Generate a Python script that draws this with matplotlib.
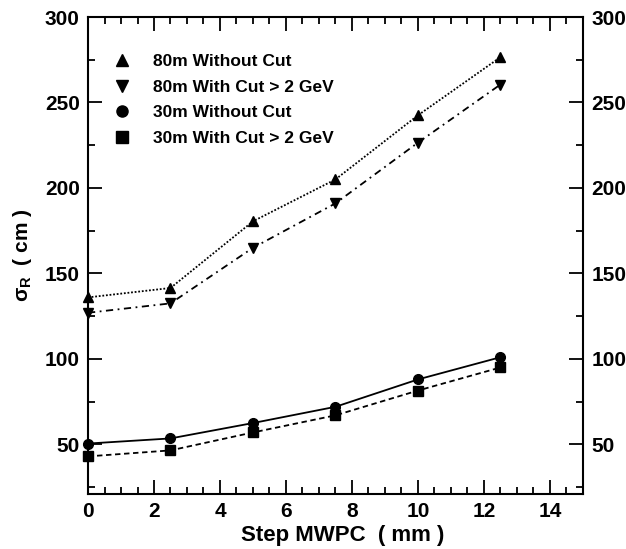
import matplotlib
matplotlib.use("Agg")
import matplotlib.pyplot as plt
from matplotlib.lines import Line2D
from matplotlib.ticker import MultipleLocator

plt.rcParams['font.family'] = ['Liberation Sans', 'DejaVu Sans']
plt.rcParams['font.weight'] = 'bold'
plt.rcParams['mathtext.fontset'] = 'custom'
plt.rcParams['mathtext.rm'] = 'Liberation Sans'
plt.rcParams['mathtext.it'] = 'Liberation Sans'

step = [0, 2.5, 5, 7.5, 10, 12.5]
sigma_80_nocut = [136, 141.5, 180.5, 205, 242.5, 276.5]
sigma_80_cut = [127, 132.5, 165, 191, 226.5, 260.5]
sigma_30_nocut = [50.5, 53.5, 62.5, 72, 88, 101]
sigma_30_cut = [43, 46.5, 57, 67, 81.5, 95]

labels = ["80m Without Cut", "80m With Cut > 2 GeV",
          "30m Without Cut", "30m With Cut > 2 GeV"]

fig = plt.figure(figsize=(6.26, 5.49), dpi=100)
ax = fig.add_axes([0.1406, 0.1002, 0.7905, 0.8688])

lw = 1.3
ax.plot(step, sigma_80_nocut, color='k', lw=lw, ls=(0, (1, 1)),
        marker='^', ms=7.5, clip_on=False)
ax.plot(step, sigma_80_cut, color='k', lw=lw, ls=(0, (4, 2.5, 1, 2.5)),
        marker='v', ms=7.5, clip_on=False)
ax.plot(step, sigma_30_nocut, color='k', lw=lw, ls='-',
        marker='o', ms=7, clip_on=False)
ax.plot(step, sigma_30_cut, color='k', lw=lw, ls=(0, (3, 2)),
        marker='s', ms=7, clip_on=False)

ax.set_xlim(0, 15)
ax.set_ylim(21, 300)
ax.xaxis.set_major_locator(MultipleLocator(2))
ax.xaxis.set_minor_locator(MultipleLocator(0.5))
ax.yaxis.set_major_locator(MultipleLocator(50))
ax.yaxis.set_minor_locator(MultipleLocator(25))
ax.tick_params(which='both', direction='in', top=True, right=True,
               labelright=True, width=1.3, labelsize=15, pad=6)
ax.tick_params(which='major', length=10)
ax.tick_params(which='minor', length=5)
for sp in ax.spines.values():
    sp.set_linewidth(1.5)

ax.set_xlabel("Step MWPC  ( mm )", fontsize=16, fontweight='bold', labelpad=3)
ax.xaxis.label.set_x(0.515)
ax.set_ylabel(r"$\sigma_R$  ( cm )", fontsize=15, fontweight='bold', labelpad=8)

handles = [Line2D([], [], color='k', ls='none', marker=m, ms=8)
           for m in ['^', 'v', 'o', 's']]
ax.legend(handles, labels, loc='upper left', frameon=False,
          bbox_to_anchor=(0.02, 0.955), handlelength=1.0,
          handletextpad=1.3, labelspacing=0.6,
          prop={'weight': 'bold', 'size': 12.5})

fig.savefig("out.png", dpi=100)
